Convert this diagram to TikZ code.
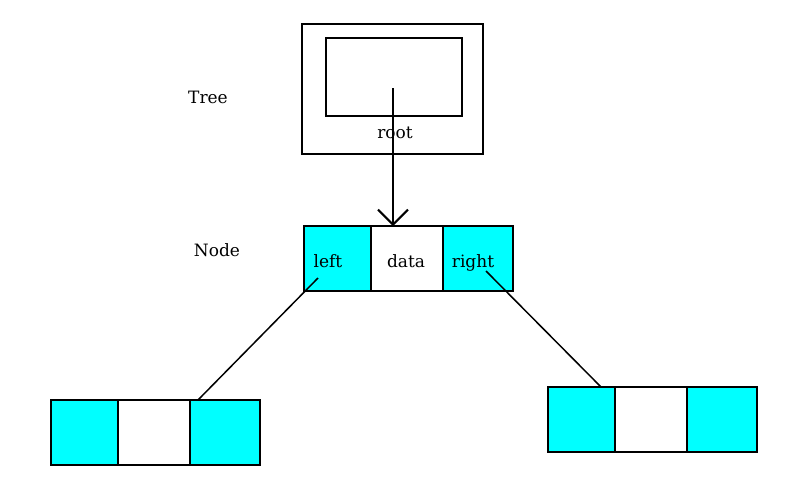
\documentclass[tikz,border=0pt]{standalone}
\usepackage{fontspec}
\setmainfont{DejaVu Serif}
\usetikzlibrary{positioning,arrows.meta}
\definecolor{ptrcyan}{RGB}{0,255,255}
\tikzset{
  cellbox/.style={draw, line width=2pt, inner sep=0pt, outer sep=0pt},
  ptrcell/.style={cellbox, fill=ptrcyan, minimum width=67pt, minimum height=65pt},
  datacell/.style={cellbox, fill=white, minimum width=72pt, minimum height=65pt},
  rptrcell/.style={ptrcell, minimum width=70pt},
  txt/.style={font=\fontsize{17pt}{20pt}\selectfont, inner sep=0pt, anchor=base},
  link/.style={line width=1.5pt},
}
\begin{document}
\begin{tikzpicture}[x=1pt,y=-1pt]
  \useasboundingbox (0,0) rectangle (801,485);
  % tree header
  \node[cellbox, minimum width=181pt, minimum height=130pt] (tree) at (392.5,89) {};
  \node[cellbox, minimum width=136pt, minimum height=78pt] (rootvar) at (394,77) {};
  \node[txt] (treelbl) at (208,103) {Tree};
  \node[txt] (rootlbl) at (395,138) {root};
  % node
  \node[ptrcell, anchor=north west] (nl) at (304,226) {};
  \node[datacell, right=0pt of nl] (nd) {};
  \node[rptrcell, right=0pt of nd] (nr) {};
  \node[txt] (nodelbl) at (217,256) {Node};
  \node[txt] (leftlbl) at (328,267) {left};
  \node[txt] (datalbl) at (406,267) {data};
  \node[txt] (rightlbl) at (473,267) {right};
  % children
  \node[ptrcell, anchor=north west] (bll) at (51,400) {};
  \node[datacell, right=0pt of bll] (bld) {};
  \node[rptrcell, right=0pt of bld] (blr) {};
  \node[ptrcell, anchor=north west] (brl) at (548,387) {};
  \node[datacell, right=0pt of brl] (brd) {};
  \node[rptrcell, right=0pt of brd] (brr) {};
  % pointers
  \draw[line width=2pt, -{Straight Barb[length=15pt,width=30pt]}]
    ([shift={(-1,11)}]rootvar.center) -- ([xshift=-14pt]nd.north);
  \draw[link] ([shift={(-19.5,19.5)}]nl.center) -- ([xshift=8pt]blr.north west);
  \draw[link] ([shift={(8,12.5)}]nr.center) -- ([xshift=-14pt]brl.north east);
\end{tikzpicture}
\end{document}
